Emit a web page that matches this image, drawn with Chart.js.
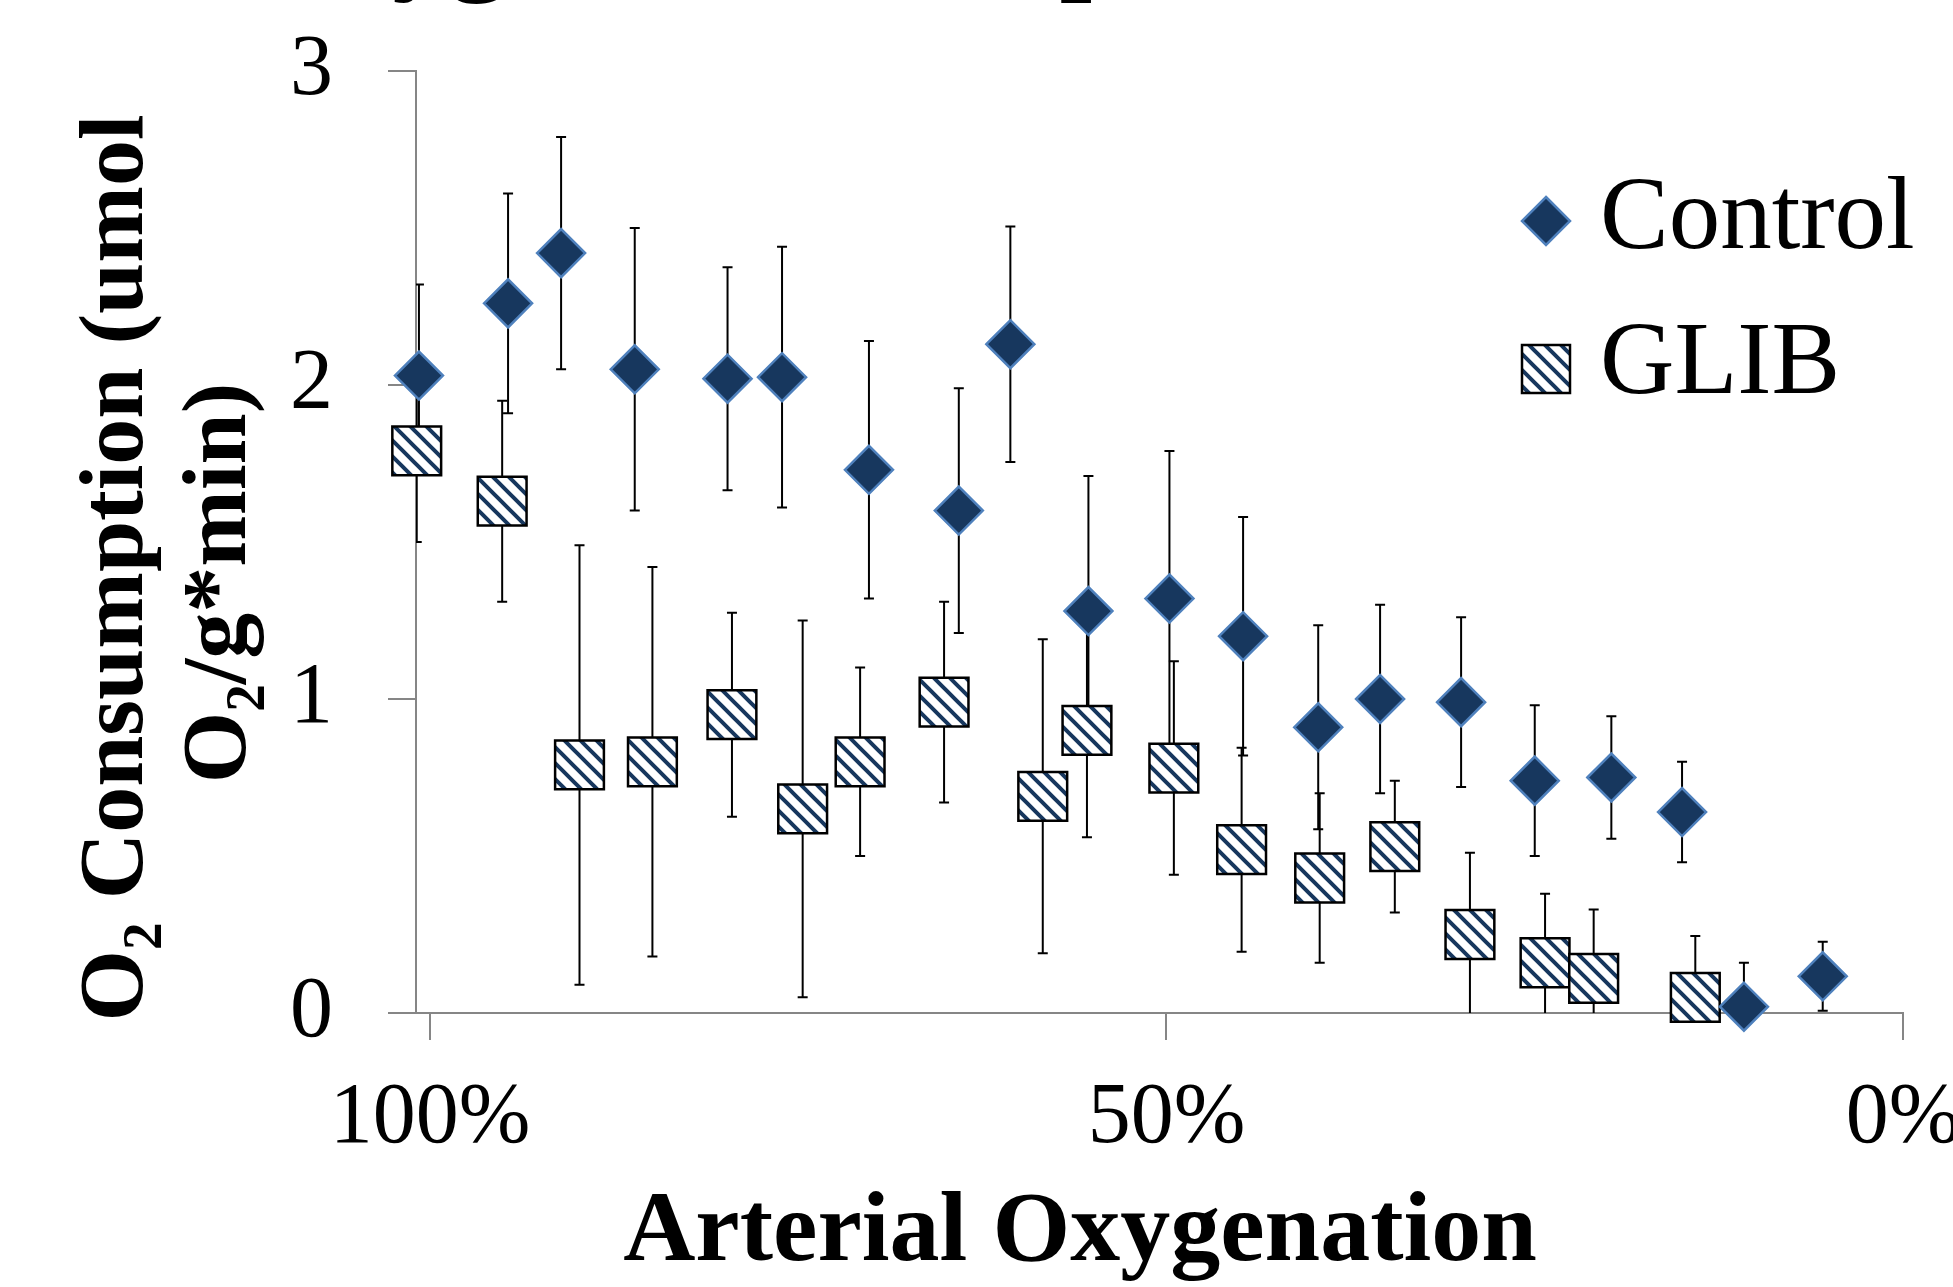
<!DOCTYPE html>
<html>
<head>
<meta charset="utf-8">
<script src="https://cdn.jsdelivr.net/npm/chart.js@4.4.0/dist/chart.umd.min.js"></script>
<style>
  html, body { margin: 0; padding: 0; background: #fff; }
  #wrap { width: 1953px; height: 1287px; }
</style>
</head>
<body>
<div id="wrap"><canvas id="o2Chart" width="1953" height="1287"></canvas></div>
<script>
// arterial oxygenation (%) vs O2 consumption
var controlX = [100.75, 94.7, 91.1, 86.1, 79.8, 76.1, 70.2, 64.1, 60.6, 55.3, 49.8, 44.8, 39.7, 35.5, 30.0, 25.0, 19.8, 15.0, 10.8, 5.45];
var controlY = [2.03, 2.26, 2.42, 2.05, 2.02, 2.025, 1.73, 1.60, 2.13, 1.28, 1.32, 1.20, 0.91, 1.00, 0.99, 0.74, 0.75, 0.64, 0.02, 0.117];
var controlErr = [0.29, 0.35, 0.37, 0.45, 0.355, 0.415, 0.41, 0.39, 0.375, 0.43, 0.47, 0.38, 0.325, 0.30, 0.27, 0.24, 0.195, 0.16, 0.14, 0.11];

var glibX = [100.9, 95.1, 89.85, 84.9, 79.5, 74.7, 70.8, 65.1, 58.4, 55.4, 49.5, 44.9, 39.6, 34.5, 29.4, 24.3, 21.0, 14.1];
var glibY = [1.79, 1.63, 0.79, 0.80, 0.95, 0.65, 0.80, 0.99, 0.69, 0.90, 0.78, 0.52, 0.43, 0.53, 0.25, 0.16, 0.11, 0.05];
var glibErr = [0.29, 0.32, 0.70, 0.62, 0.325, 0.60, 0.30, 0.32, 0.50, 0.34, 0.34, 0.325, 0.27, 0.21, 0.26, 0.22, 0.22, 0.195];

var xTicks = [100, 50, 0];
var yTicks = [0, 1, 2, 3];

var NAVY = "#17375e";
var EDGE = "#4f81bd";
var AXIS = "#868686";
var SERIF = "'Liberation Serif', 'Times New Roman', serif";

// diagonal hatch used for the GLIB squares
function makeHatch() {
  var c = document.createElement("canvas");
  c.width = 16;
  c.height = 16;
  var g = c.getContext("2d");
  g.fillStyle = "#fff";
  g.fillRect(0, 0, 16, 16);
  g.strokeStyle = NAVY;
  g.lineWidth = 4;
  g.beginPath();
  g.moveTo(-4, -4); g.lineTo(20, 20);
  g.moveTo(-4, 12); g.lineTo(4, 20);
  g.moveTo(12, -4); g.lineTo(20, 4);
  g.stroke();
  return g.createPattern(c, "repeat");
}
var hatch = makeHatch();

function points(xs, ys) {
  return xs.map(function (x, i) { return { x: x, y: ys[i] }; });
}

// vertical error bars, drawn under the markers
var errorBars = {
  id: "errorBars",
  beforeDatasetsDraw: function (chart) {
    var ctx = chart.ctx, a = chart.chartArea;
    var xs = chart.scales.x, ys = chart.scales.y;
    var sets = [[controlX, controlY, controlErr], [glibX, glibY, glibErr]];
    ctx.save();
    ctx.beginPath();
    ctx.rect(a.left, a.top, a.right - a.left, a.bottom - a.top);
    ctx.clip();
    ctx.strokeStyle = "#000";
    ctx.lineWidth = 2;
    sets.forEach(function (s) {
      s[0].forEach(function (x, i) {
        var px = xs.getPixelForValue(x);
        var top = ys.getPixelForValue(s[1][i] + s[2][i]);
        var bot = ys.getPixelForValue(s[1][i] - s[2][i]);
        ctx.beginPath();
        ctx.moveTo(px, top); ctx.lineTo(px, bot);
        ctx.moveTo(px - 5, top); ctx.lineTo(px + 5, top);
        ctx.moveTo(px - 5, bot); ctx.lineTo(px + 5, bot);
        ctx.stroke();
      });
    });
    ctx.restore();
  }
};

// axis titles, legend and the clipped title at the top
var decorations = {
  id: "decorations",
  afterDraw: function (chart) {
    var ctx = chart.ctx;
    ctx.save();
    ctx.fillStyle = "#000";

    ctx.font = "bold 115px " + SERIF;
    ctx.textAlign = "left";
    ctx.textBaseline = "alphabetic";
    ctx.fillText("Oxygen Consumption", 245, -21);

    ctx.font = "bold 100px " + SERIF;
    ctx.textAlign = "center";
    ctx.fillText("Arterial Oxygenation", 1080, 1260);

    ctx.font = "bold 92px " + SERIF;
    ctx.save();
    ctx.translate(142, 568);
    ctx.rotate(-Math.PI / 2);
    ctx.fillText("O\u2082 Consumption (umol", 0, 0);
    ctx.restore();
    ctx.save();
    ctx.translate(245, 583);
    ctx.rotate(-Math.PI / 2);
    ctx.fillText("O\u2082/g*min)", 0, 0);
    ctx.restore();

    // legend
    ctx.beginPath();
    ctx.moveTo(1546, 221 - 24);
    ctx.lineTo(1546 + 24, 221);
    ctx.lineTo(1546, 221 + 24);
    ctx.lineTo(1546 - 24, 221);
    ctx.closePath();
    ctx.fillStyle = NAVY;
    ctx.fill();
    ctx.strokeStyle = EDGE;
    ctx.lineWidth = 2.5;
    ctx.stroke();

    ctx.fillStyle = hatch;
    ctx.fillRect(1522, 345, 48, 48);
    ctx.strokeStyle = "#000";
    ctx.strokeRect(1522, 345, 48, 48);

    ctx.fillStyle = "#000";
    ctx.font = "103px " + SERIF;
    ctx.textAlign = "left";
    ctx.fillText("Control", 1600, 248);
    ctx.fillText("GLIB", 1600, 393);
    ctx.restore();
  }
};

var ctx = document.getElementById("o2Chart").getContext("2d");

var o2Chart = new Chart(ctx, {
  type: "scatter",
  data: {
    datasets: [
      {
        label: "Control",
        data: points(controlX, controlY),
        pointStyle: "rectRot",
        pointRadius: 24,
        pointBackgroundColor: NAVY,
        pointBorderColor: EDGE,
        pointBorderWidth: 2.5,
        clip: false,
        order: 0
      },
      {
        label: "GLIB",
        data: points(glibX, glibY),
        pointStyle: "rect",
        pointRadius: 34.5,
        pointBackgroundColor: hatch,
        pointBorderColor: "#000",
        pointBorderWidth: 2.5,
        clip: false,
        order: 1
      }
    ]
  },
  options: {
    responsive: false,
    animation: false,
    events: [],
    layout: { padding: { top: 71, right: 50, left: 0, bottom: 0 } },
    plugins: {
      legend: { display: false },
      tooltip: { enabled: false }
    },
    scales: {
      x: {
        type: "linear",
        reverse: true,
        min: 0,
        max: 100.95,
        afterBuildTicks: function (scale) {
          scale.ticks = xTicks.map(function (v) { return { value: v }; });
        },
        afterFit: function (scale) {
          scale.height = 274;
          scale.paddingLeft = 0;
          scale.paddingRight = 0;
        },
        ticks: {
          callback: function (v) { return v + "%"; },
          font: { family: SERIF, size: 86 },
          color: "#000",
          padding: 28,
          maxRotation: 0,
          autoSkip: false
        },
        grid: { drawOnChartArea: false, tickLength: 27, color: AXIS, lineWidth: 2 },
        border: { color: AXIS, width: 2 }
      },
      y: {
        min: 0,
        max: 3,
        afterBuildTicks: function (scale) {
          scale.ticks = yTicks.map(function (v) { return { value: v }; });
        },
        afterFit: function (scale) {
          scale.width = 416;
          scale.paddingTop = 0;
          scale.paddingBottom = 0;
        },
        ticks: {
          font: { family: SERIF, size: 86 },
          color: "#000",
          padding: 55
        },
        grid: { drawOnChartArea: false, tickLength: 28, color: AXIS, lineWidth: 2 },
        border: { color: AXIS, width: 2 }
      }
    }
  },
  plugins: [errorBars, decorations]
});
</script>
</body>
</html>
